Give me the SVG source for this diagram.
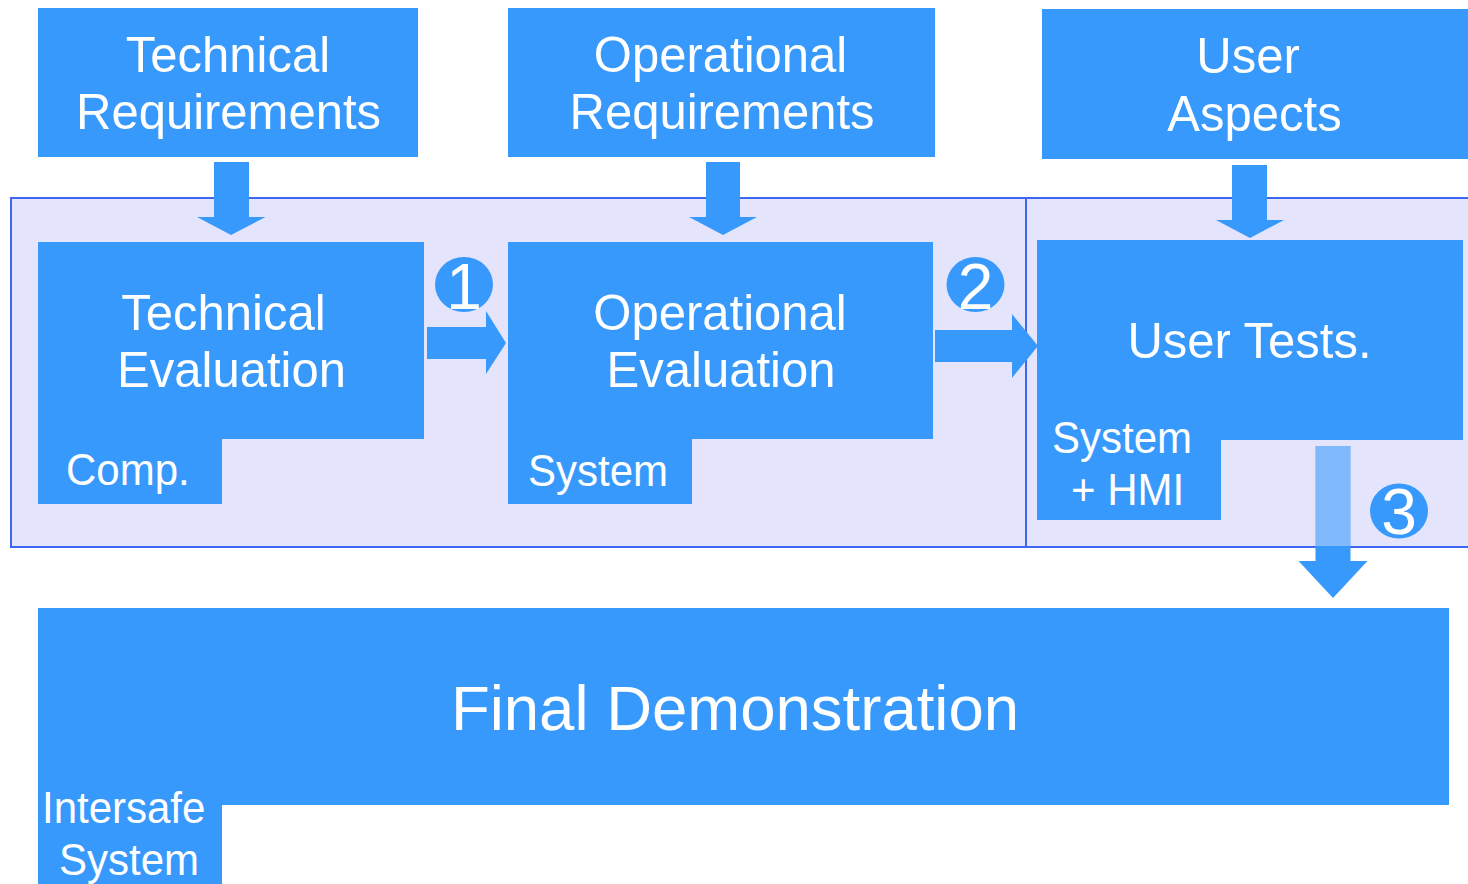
<svg xmlns="http://www.w3.org/2000/svg" width="1468" height="884" viewBox="0 0 1468 884">
<style>
.box{fill:#3899FC}
.t{font-family:"Liberation Sans",Arial,sans-serif;fill:#FFFFFF}
.m{font-size:49px;text-anchor:middle}
.s{font-size:42px}
.n{font-size:64px;text-anchor:middle}
.arr{fill:#3899FC}
</style>
<rect x="0" y="0" width="1468" height="884" fill="#FFFFFF"/>
<g id="container">
<rect x="11" y="198" width="1470" height="349" fill="#E4E4FC" stroke="#3D66F2" stroke-width="2"/>
<line x1="1026" y1="198" x2="1026" y2="547" stroke="#3D66F2" stroke-width="2"/>
</g>
<g id="tech-req">
<rect class="box" x="38" y="8" width="380" height="149"/>
<text class="t m" transform="translate(228,72) scale(1,1.02)">Technical</text>
<text class="t m" transform="translate(228.5,129) scale(1,1.02)">Requirements</text>
</g>
<g id="op-req">
<rect class="box" x="508" y="8" width="427" height="149"/>
<text class="t m" transform="translate(720.5,72) scale(1,1.02)">Operational</text>
<text class="t m" transform="translate(722,129) scale(1,1.02)">Requirements</text>
</g>
<g id="user-aspects">
<rect class="box" x="1042" y="9" width="426" height="150"/>
<text class="t m" transform="translate(1248,73) scale(1,1.02)">User</text>
<text class="t m" transform="translate(1254.5,131) scale(1,1.02)">Aspects</text>
</g>
<g id="tech-eval">
<path class="box" d="M38,242 H424 V439 H222 V504 H38 Z"/>
<text class="t m" transform="translate(223.5,330) scale(1,1.02)">Technical</text>
<text class="t m" transform="translate(231.5,387) scale(1,1.02)">Evaluation</text>
<text class="t s" transform="translate(66,485) scale(1,1.05)">Comp.</text>
</g>
<g id="op-eval">
<path class="box" d="M508,242 H933 V439 H692 V504 H508 Z"/>
<text class="t m" transform="translate(720,330) scale(1,1.02)">Operational</text>
<text class="t m" transform="translate(721,387) scale(1,1.02)">Evaluation</text>
<text class="t s" transform="translate(528,486) scale(1,1.05)">System</text>
</g>
<g id="user-tests">
<path class="box" d="M1037,240 H1463 V440 H1221 V520 H1037 Z"/>
<text class="t m" transform="translate(1249.5,358) scale(1,1.02)">User Tests.</text>
<text class="t s" transform="translate(1052,453) scale(1,1.05)">System</text>
<text class="t s" transform="translate(1071,505) scale(1,1.05)">+ HMI</text>
</g>
<g id="final-demo">
<path class="box" d="M38,608 H1449 V805 H222 V884 H38 Z"/>
<text class="t" font-size="63.5" text-anchor="middle" x="735" y="730">Final Demonstration</text>
<text class="t s" transform="translate(42,823) scale(1,1.05)">Intersafe</text>
<text class="t s" transform="translate(59,875) scale(1,1.05)">System</text>
</g>
<g id="connectors">
<path class="arr" d="M214,162 H249 V217 H265.5 L231,235 L197,217 H214 Z"/>
<path class="arr" d="M706,162 H740 V217 H757 L723,235 L689,217 H706 Z"/>
<path class="arr" d="M1232,165 H1267 V220 H1284 L1250,238 L1216,220 H1232 Z"/>
<path class="arr" d="M427,327 H486 V311 L506,343 L486,374 V359 H427 Z"/>
<path class="arr" d="M935,330 H1012 V314 L1038,346 L1012,378 V362 H935 Z"/>
<path class="arr" d="M1315.5,446 H1350.5 V561 H1367.5 L1333,598 L1298.5,561 H1315.5 Z"/>
<rect x="1315.5" y="446" width="35" height="100" fill="#E4E4FC" opacity="0.42"/>
</g>
<g id="badge-1">
<ellipse cx="464" cy="284.5" rx="29" ry="27.5" fill="#3899FC"/>
<text class="t n" x="464" y="309">1</text>
</g>
<g id="badge-2">
<ellipse cx="975.5" cy="284.5" rx="29" ry="27.5" fill="#3899FC"/>
<text class="t n" x="975.5" y="309">2</text>
</g>
<g id="badge-3">
<ellipse cx="1399" cy="511" rx="29" ry="27.5" fill="#3899FC"/>
<text class="t n" x="1399" y="534">3</text>
</g>
</svg>
